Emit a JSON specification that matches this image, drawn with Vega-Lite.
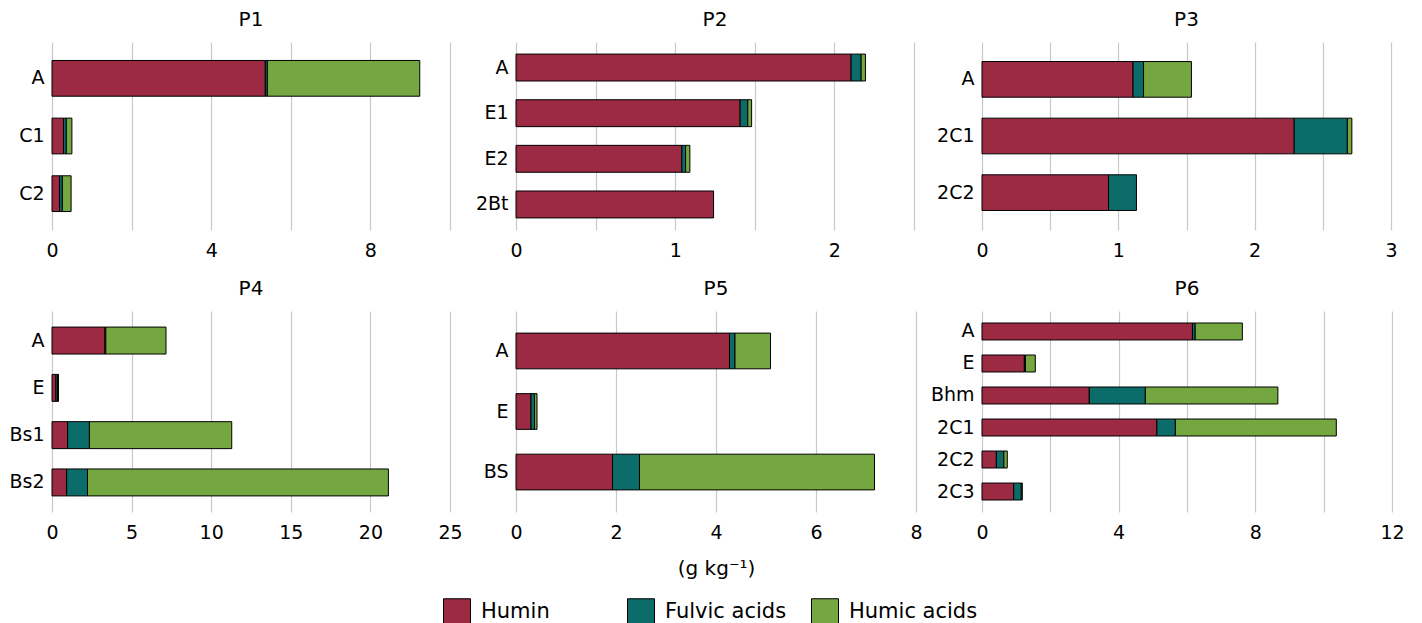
{
  "$schema": "https://vega.github.io/schema/vega-lite/v6.json",
  "padding": {"left": 8, "top": 10, "right": 10, "bottom": 0},
  "data": {"values": [
    {"profile": "P1", "horizon": "A", "fraction": "Humin", "value": 5.36},
    {"profile": "P1", "horizon": "A", "fraction": "Fulvic acids", "value": 0.05},
    {"profile": "P1", "horizon": "A", "fraction": "Humic acids", "value": 3.83},
    {"profile": "P1", "horizon": "C1", "fraction": "Humin", "value": 0.29},
    {"profile": "P1", "horizon": "C1", "fraction": "Fulvic acids", "value": 0.07},
    {"profile": "P1", "horizon": "C1", "fraction": "Humic acids", "value": 0.14},
    {"profile": "P1", "horizon": "C2", "fraction": "Humin", "value": 0.19},
    {"profile": "P1", "horizon": "C2", "fraction": "Fulvic acids", "value": 0.07},
    {"profile": "P1", "horizon": "C2", "fraction": "Humic acids", "value": 0.22},
    {"profile": "P2", "horizon": "A", "fraction": "Humin", "value": 2.105},
    {"profile": "P2", "horizon": "A", "fraction": "Fulvic acids", "value": 0.063},
    {"profile": "P2", "horizon": "A", "fraction": "Humic acids", "value": 0.027},
    {"profile": "P2", "horizon": "E1", "fraction": "Humin", "value": 1.408},
    {"profile": "P2", "horizon": "E1", "fraction": "Fulvic acids", "value": 0.048},
    {"profile": "P2", "horizon": "E1", "fraction": "Humic acids", "value": 0.024},
    {"profile": "P2", "horizon": "E2", "fraction": "Humin", "value": 1.042},
    {"profile": "P2", "horizon": "E2", "fraction": "Fulvic acids", "value": 0.023},
    {"profile": "P2", "horizon": "E2", "fraction": "Humic acids", "value": 0.027},
    {"profile": "P2", "horizon": "2Bt", "fraction": "Humin", "value": 1.241},
    {"profile": "P3", "horizon": "A", "fraction": "Humin", "value": 1.108},
    {"profile": "P3", "horizon": "A", "fraction": "Fulvic acids", "value": 0.077},
    {"profile": "P3", "horizon": "A", "fraction": "Humic acids", "value": 0.351},
    {"profile": "P3", "horizon": "2C1", "fraction": "Humin", "value": 2.29},
    {"profile": "P3", "horizon": "2C1", "fraction": "Fulvic acids", "value": 0.39},
    {"profile": "P3", "horizon": "2C1", "fraction": "Humic acids", "value": 0.033},
    {"profile": "P3", "horizon": "2C2", "fraction": "Humin", "value": 0.928},
    {"profile": "P3", "horizon": "2C2", "fraction": "Fulvic acids", "value": 0.205},
    {"profile": "P4", "horizon": "A", "fraction": "Humin", "value": 3.33},
    {"profile": "P4", "horizon": "A", "fraction": "Fulvic acids", "value": 0.05},
    {"profile": "P4", "horizon": "A", "fraction": "Humic acids", "value": 3.78},
    {"profile": "P4", "horizon": "E", "fraction": "Humin", "value": 0.25},
    {"profile": "P4", "horizon": "E", "fraction": "Fulvic acids", "value": 0.1},
    {"profile": "P4", "horizon": "E", "fraction": "Humic acids", "value": 0.06},
    {"profile": "P4", "horizon": "Bs1", "fraction": "Humin", "value": 0.98},
    {"profile": "P4", "horizon": "Bs1", "fraction": "Fulvic acids", "value": 1.37},
    {"profile": "P4", "horizon": "Bs1", "fraction": "Humic acids", "value": 8.94},
    {"profile": "P4", "horizon": "Bs2", "fraction": "Humin", "value": 0.92},
    {"profile": "P4", "horizon": "Bs2", "fraction": "Fulvic acids", "value": 1.31},
    {"profile": "P4", "horizon": "Bs2", "fraction": "Humic acids", "value": 18.9},
    {"profile": "P5", "horizon": "A", "fraction": "Humin", "value": 4.27},
    {"profile": "P5", "horizon": "A", "fraction": "Fulvic acids", "value": 0.11},
    {"profile": "P5", "horizon": "A", "fraction": "Humic acids", "value": 0.71},
    {"profile": "P5", "horizon": "E", "fraction": "Humin", "value": 0.3},
    {"profile": "P5", "horizon": "E", "fraction": "Fulvic acids", "value": 0.07},
    {"profile": "P5", "horizon": "E", "fraction": "Humic acids", "value": 0.05},
    {"profile": "P5", "horizon": "BS", "fraction": "Humin", "value": 1.93},
    {"profile": "P5", "horizon": "BS", "fraction": "Fulvic acids", "value": 0.54},
    {"profile": "P5", "horizon": "BS", "fraction": "Humic acids", "value": 4.7},
    {"profile": "P6", "horizon": "A", "fraction": "Humin", "value": 6.16},
    {"profile": "P6", "horizon": "A", "fraction": "Fulvic acids", "value": 0.08},
    {"profile": "P6", "horizon": "A", "fraction": "Humic acids", "value": 1.38},
    {"profile": "P6", "horizon": "E", "fraction": "Humin", "value": 1.24},
    {"profile": "P6", "horizon": "E", "fraction": "Fulvic acids", "value": 0.03},
    {"profile": "P6", "horizon": "E", "fraction": "Humic acids", "value": 0.29},
    {"profile": "P6", "horizon": "Bhm", "fraction": "Humin", "value": 3.14},
    {"profile": "P6", "horizon": "Bhm", "fraction": "Fulvic acids", "value": 1.64},
    {"profile": "P6", "horizon": "Bhm", "fraction": "Humic acids", "value": 3.88},
    {"profile": "P6", "horizon": "2C1", "fraction": "Humin", "value": 5.12},
    {"profile": "P6", "horizon": "2C1", "fraction": "Fulvic acids", "value": 0.54},
    {"profile": "P6", "horizon": "2C1", "fraction": "Humic acids", "value": 4.71},
    {"profile": "P6", "horizon": "2C2", "fraction": "Humin", "value": 0.42},
    {"profile": "P6", "horizon": "2C2", "fraction": "Fulvic acids", "value": 0.22},
    {"profile": "P6", "horizon": "2C2", "fraction": "Humic acids", "value": 0.1},
    {"profile": "P6", "horizon": "2C3", "fraction": "Humin", "value": 0.93},
    {"profile": "P6", "horizon": "2C3", "fraction": "Fulvic acids", "value": 0.22},
    {"profile": "P6", "horizon": "2C3", "fraction": "Humic acids", "value": 0.03}
  ]},
  "columns": 3,
  "bounds": "flush",
  "spacing": {"row": 81, "column": 66},
  "resolve": {"scale": {"x": "independent", "y": "independent"}},
  "concat": [
    {
      "title": "P1", "width": 398, "height": 188,
      "transform": [{"filter": "datum.profile == 'P1'"}, {"calculate": "indexof(['Humin','Fulvic acids','Humic acids'], datum.fraction)", "as": "stackorder"}],
      "mark": {"type": "bar", "stroke": "black", "strokeWidth": 1},
      "encoding": {
        "y": {"field": "horizon", "type": "nominal", "sort": null, "scale": {"paddingInner": 0.38, "paddingOuter": 0.32}, "axis": {"title": null}},
        "x": {"field": "value", "type": "quantitative", "stack": "zero", "scale": {"domain": [0, 10], "nice": false}, "axis": {"title": null, "values": [0, 2, 4, 6, 8, 10], "format": "~g", "labelExpr": "datum.value % 4 == 0 ? datum.label : ''"}},
        "order": {"field": "stackorder", "type": "quantitative"},
        "color": {"field": "fraction", "type": "nominal", "sort": ["Humin", "Fulvic acids", "Humic acids"], "scale": {"domain": ["Humin", "Fulvic acids", "Humic acids"], "range": ["#9c2a43", "#0c6c69", "#75a740"]}, "legend": {"title": null}}
      }
    },
    {
      "title": "P2", "width": 398, "height": 188,
      "transform": [{"filter": "datum.profile == 'P2'"}, {"calculate": "indexof(['Humin','Fulvic acids','Humic acids'], datum.fraction)", "as": "stackorder"}],
      "mark": {"type": "bar", "stroke": "black", "strokeWidth": 1},
      "encoding": {
        "y": {"field": "horizon", "type": "nominal", "sort": null, "scale": {"paddingInner": 0.41, "paddingOuter": 0.265}, "axis": {"title": null}},
        "x": {"field": "value", "type": "quantitative", "stack": "zero", "scale": {"domain": [0, 2.5], "nice": false}, "axis": {"title": null, "values": [0, 0.5, 1, 1.5, 2, 2.5], "format": "~g", "labelExpr": "datum.value % 1 == 0 ? datum.label : ''"}},
        "order": {"field": "stackorder", "type": "quantitative"},
        "color": {"field": "fraction", "type": "nominal", "sort": ["Humin", "Fulvic acids", "Humic acids"], "legend": {"title": null}}
      }
    },
    {
      "title": "P3", "width": 409, "height": 188,
      "transform": [{"filter": "datum.profile == 'P3'"}, {"calculate": "indexof(['Humin','Fulvic acids','Humic acids'], datum.fraction)", "as": "stackorder"}],
      "mark": {"type": "bar", "stroke": "black", "strokeWidth": 1},
      "encoding": {
        "y": {"field": "horizon", "type": "nominal", "sort": null, "scale": {"paddingInner": 0.37, "paddingOuter": 0.345}, "axis": {"title": null}},
        "x": {"field": "value", "type": "quantitative", "stack": "zero", "scale": {"domain": [0, 3], "nice": false}, "axis": {"title": null, "values": [0, 0.5, 1, 1.5, 2, 2.5, 3], "format": "~g", "labelExpr": "datum.value % 1 == 0 ? datum.label : ''"}},
        "order": {"field": "stackorder", "type": "quantitative"},
        "color": {"field": "fraction", "type": "nominal", "sort": ["Humin", "Fulvic acids", "Humic acids"], "legend": {"title": null}}
      }
    },
    {
      "title": "P4", "width": 398, "height": 201,
      "transform": [{"filter": "datum.profile == 'P4'"}, {"calculate": "indexof(['Humin','Fulvic acids','Humic acids'], datum.fraction)", "as": "stackorder"}],
      "mark": {"type": "bar", "stroke": "black", "strokeWidth": 1},
      "encoding": {
        "y": {"field": "horizon", "type": "nominal", "sort": null, "scale": {"paddingInner": 0.43, "paddingOuter": 0.34}, "axis": {"title": null}},
        "x": {"field": "value", "type": "quantitative", "stack": "zero", "scale": {"domain": [0, 25], "nice": false}, "axis": {"title": null, "values": [0, 5, 10, 15, 20, 25], "format": "~g"}},
        "order": {"field": "stackorder", "type": "quantitative"},
        "color": {"field": "fraction", "type": "nominal", "sort": ["Humin", "Fulvic acids", "Humic acids"], "legend": {"title": null}}
      }
    },
    {
      "title": "P5", "width": 400, "height": 201,
      "transform": [{"filter": "datum.profile == 'P5'"}, {"calculate": "indexof(['Humin','Fulvic acids','Humic acids'], datum.fraction)", "as": "stackorder"}],
      "mark": {"type": "bar", "stroke": "black", "strokeWidth": 1},
      "encoding": {
        "y": {"field": "horizon", "type": "nominal", "sort": null, "scale": {"paddingInner": 0.41, "paddingOuter": 0.365}, "axis": {"title": null}},
        "x": {"field": "value", "type": "quantitative", "stack": "zero", "scale": {"domain": [0, 8], "nice": false}, "axis": {"title": "(g kg⁻¹)", "titlePadding": 16, "values": [0, 2, 4, 6, 8], "format": "~g"}},
        "order": {"field": "stackorder", "type": "quantitative"},
        "color": {"field": "fraction", "type": "nominal", "sort": ["Humin", "Fulvic acids", "Humic acids"], "legend": {"title": null}}
      }
    },
    {
      "title": "P6", "width": 410, "height": 201,
      "transform": [{"filter": "datum.profile == 'P6'"}, {"calculate": "indexof(['Humin','Fulvic acids','Humic acids'], datum.fraction)", "as": "stackorder"}],
      "mark": {"type": "bar", "stroke": "black", "strokeWidth": 1},
      "encoding": {
        "y": {"field": "horizon", "type": "nominal", "sort": null, "scale": {"paddingInner": 0.47, "paddingOuter": 0.375}, "axis": {"title": null}},
        "x": {"field": "value", "type": "quantitative", "stack": "zero", "scale": {"domain": [0, 12], "nice": false}, "axis": {"title": null, "values": [0, 2, 4, 6, 8, 10, 12], "format": "~g", "labelExpr": "datum.value % 4 == 0 ? datum.label : ''"}},
        "order": {"field": "stackorder", "type": "quantitative"},
        "color": {"field": "fraction", "type": "nominal", "sort": ["Humin", "Fulvic acids", "Humic acids"], "legend": {"title": null}}
      }
    }
  ],
  "config": {
    "font": "DejaVu Sans",
    "view": {"stroke": null},
    "title": {"fontSize": 20, "fontWeight": "normal", "offset": 12, "color": "black"},
    "axis": {"labelFontSize": 19, "labelColor": "black", "titleFontSize": 20, "titleFontWeight": "normal", "titleColor": "black", "domain": false, "ticks": false},
    "axisX": {"grid": true, "gridColor": "#c8c8c8", "gridWidth": 1.2, "labelPadding": 11, "titlePadding": 10, "labelFlush": false},
    "axisY": {"grid": false, "labelPadding": 8},
    "legend": {"orient": "none", "legendX": 391, "legendY": 556, "direction": "horizontal", "symbolType": "square", "symbolSize": 729, "symbolStrokeColor": "black", "symbolStrokeWidth": 1, "symbolOpacity": 1, "labelFontSize": 21, "labelColor": "black", "labelOffset": 10, "gridAlign": "all", "columnPadding": 15}
  }
}
